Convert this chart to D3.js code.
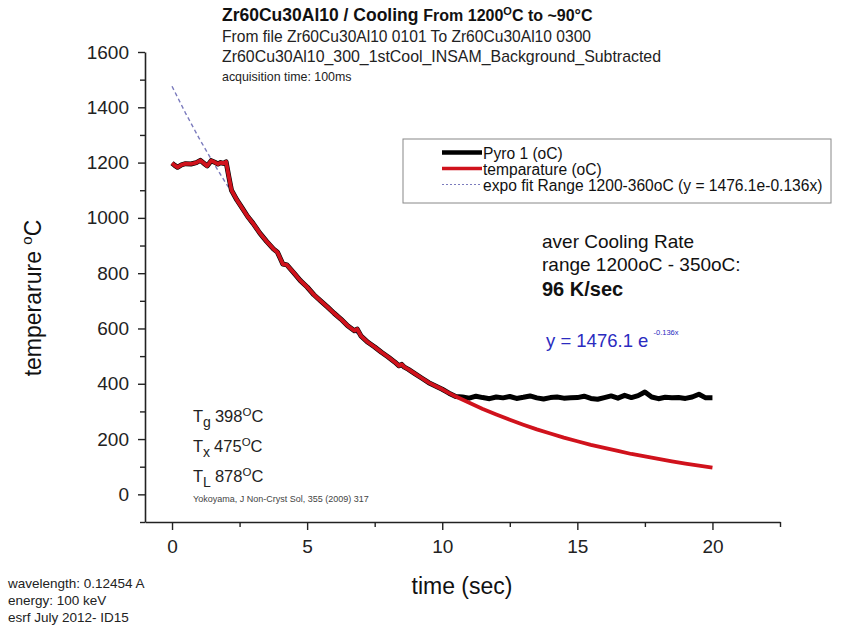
<!DOCTYPE html>
<html>
<head>
<meta charset="utf-8">
<script src="https://cdn.jsdelivr.net/npm/d3@7"></script>
<style>
  body { margin: 0; background: #fff; }
  svg { font-family: "Liberation Sans", Arial, sans-serif; }
</style>
</head>
<body>
<svg id="chart" width="848" height="627"></svg>
<script>
// cooling part, both pyro and temperature overlap here
const coolTime = [0, 0.1, 0.2, 0.35, 0.5, 0.7, 0.9, 1.05, 1.2, 1.3, 1.45, 1.6, 1.7, 1.8, 1.9, 2.0, 2.1, 2.2,
  2.4, 2.6, 2.8, 3.0, 3.25, 3.5, 3.75, 3.9, 4.0, 4.1, 4.25, 4.5, 4.75, 5.0, 5.25, 5.5, 5.75, 6.0, 6.25,
  6.5, 6.75, 6.85, 7.0, 7.25, 7.5, 7.75, 8.0, 8.25, 8.4, 8.5, 8.6, 8.75, 9.0, 9.25, 9.5, 9.75, 10.0, 10.25, 10.5];
const coolTemp = [1198, 1190, 1183, 1192, 1196, 1195, 1200, 1208, 1196, 1188, 1207, 1200, 1195, 1200, 1197, 1203, 1150, 1100,
  1065, 1035, 1005, 980, 945, 915, 888, 876, 855, 833, 830, 802, 773, 750, 722, 700, 678, 655, 634,
  610, 592, 598, 572, 550, 533, 514, 497, 478, 465, 470, 460, 452, 436, 420, 404, 392, 380, 366, 354];

// Pyro 1 after 10.5 s (flat ~350)
const pyroTailTime = [10.75, 11, 11.25, 11.5, 11.75, 12, 12.25, 12.5, 12.75, 13, 13.25, 13.5, 13.75, 14, 14.25,
  14.5, 14.75, 15, 15.25, 15.5, 15.75, 16, 16.25, 16.5, 16.75, 17, 17.25, 17.5, 17.75, 18, 18.25, 18.5,
  18.75, 19, 19.25, 19.5, 19.75, 20];
const pyroTailTemp = [352, 348, 355, 350, 346, 352, 349, 354, 347, 351, 356, 349, 345, 350, 352,
  348, 349, 350, 355, 347, 344, 350, 356, 348, 358, 350, 357, 370, 352, 346, 351, 349,
  350, 347, 352, 362, 349, 349];

// temperature after 10.5 s (smooth)
const tempTailTime = [11, 11.5, 12, 12.5, 13, 13.5, 14, 14.5, 15, 15.5, 16, 16.5, 17, 17.5, 18, 18.5, 19, 19.5, 20];
const tempTailTemp = [331, 309, 289, 270, 252, 235, 220, 205, 192, 179, 168, 157, 146, 137, 128, 119, 111, 104, 97];

// expo fit values y = 1476.1 e^-0.136x
const fitTime = [0, 0.5, 1, 1.5, 2, 2.5, 3, 3.5, 4, 4.5, 5, 5.5, 6, 6.5, 7, 7.5, 8, 8.5, 9, 9.5, 10, 10.5];
const fitTemp = [1476.1, 1379.1, 1288.4, 1203.7, 1124.6, 1050.6, 981.6, 917.0, 856.8, 800.4, 747.8, 698.7,
  652.7, 609.8, 569.7, 532.3, 497.3, 464.6, 434.0, 405.5, 378.9, 354.0];

const xMajor = [0, 5, 10, 15, 20];
const xMinor = [2.5, 7.5, 12.5, 17.5, 22.5];
const yMajor = [0, 200, 400, 600, 800, 1000, 1200, 1400, 1600];
const yMinor = [-100, 100, 300, 500, 700, 900, 1100, 1300, 1500];

const legendItems = ["Pyro 1 (oC)", "temparature (oC)", "expo fit Range 1200-360oC (y = 1476.1e-0.136x)"];

const svg = d3.select("#chart");

const x = d3.scaleLinear().domain([-1, 22.5]).range([145, 780]);
const y = d3.scaleLinear().domain([-100, 1600]).range([522, 52]);

const zip = (ts, vs) => ts.map((t, i) => ({t: t, v: vs[i]}));
const pyroData = zip(coolTime, coolTemp).concat(zip(pyroTailTime, pyroTailTemp));
const tempData = zip(coolTime, coolTemp).concat(zip(tempTailTime, tempTailTemp));
const fitData = zip(fitTime, fitTemp);

const line = d3.line().x(d => x(d.t)).y(d => y(d.v));

// axes
svg.append("g").attr("transform", "translate(0,522)")
  .call(d3.axisBottom(x).tickValues(xMajor).tickSize(8).tickPadding(10).tickSizeOuter(0));
svg.append("g").attr("transform", "translate(0,522)")
  .call(d3.axisBottom(x).tickValues(xMinor).tickSize(5).tickFormat("").tickSizeOuter(0))
  .select(".domain").remove();
svg.append("g").attr("transform", "translate(145,0)")
  .call(d3.axisLeft(y).tickValues(yMajor).tickSize(7).tickPadding(9).tickSizeOuter(0).tickFormat(d3.format("d")));
svg.append("g").attr("transform", "translate(145,0)")
  .call(d3.axisLeft(y).tickValues(yMinor).tickSize(5).tickFormat("").tickSizeOuter(0))
  .select(".domain").remove();

svg.selectAll(".domain").attr("stroke", "#222").attr("stroke-width", 1.6);
svg.selectAll(".tick line").attr("stroke", "#222").attr("stroke-width", 1.4);
svg.selectAll(".tick text").attr("font-size", 19).attr("fill", "#222")
  .attr("font-family", "Liberation Sans, Arial, sans-serif");

// lines
svg.append("path").datum(fitData)
  .attr("d", line).attr("fill", "none")
  .attr("stroke", "#7b7bbd").attr("stroke-width", 1.4).attr("stroke-dasharray", "4,3");

svg.append("path").datum(pyroData)
  .attr("d", line).attr("fill", "none")
  .attr("stroke", "#000").attr("stroke-width", 5).attr("stroke-linejoin", "round");

svg.append("path").datum(tempData)
  .attr("d", line).attr("fill", "none")
  .attr("stroke", "#d0121c").attr("stroke-width", 3.8).attr("stroke-linejoin", "round");

// axis titles
const yt = svg.append("text").attr("transform", "translate(41,298) rotate(-90)")
  .attr("text-anchor", "middle").attr("font-size", 23).attr("fill", "#111");
yt.append("tspan").text("temperarure ");
yt.append("tspan").attr("font-size", 15).attr("dy", -9).text("o");
yt.append("tspan").attr("dy", 9).text("C");

svg.append("text").attr("x", 462).attr("y", 594).attr("text-anchor", "middle")
  .attr("font-size", 23).attr("fill", "#111").text("time (sec)");

// title block
const t1 = svg.append("text").attr("x", 222).attr("y", 21).attr("font-weight", "bold").attr("fill", "#111");
t1.append("tspan").attr("font-size", 17.5).text("Zr60Cu30Al10 / Cooling ");
t1.append("tspan").attr("font-size", 16).text("From 1200");
t1.append("tspan").attr("font-size", 11).attr("dy", -6).text("O");
t1.append("tspan").attr("font-size", 16).attr("dy", 6).text("C to ~90°C");

svg.append("text").attr("x", 222).attr("y", 42).attr("font-size", 15.6).attr("fill", "#222")
  .text("From file Zr60Cu30Al10 0101 To Zr60Cu30Al10 0300");
svg.append("text").attr("x", 222).attr("y", 62).attr("font-size", 15.9).attr("fill", "#222")
  .text("Zr60Cu30Al10_300_1stCool_INSAM_Background_Subtracted");
svg.append("text").attr("x", 222).attr("y", 81).attr("font-size", 12.4).attr("fill", "#222")
  .text("acquisition time: 100ms");

// legend
const lg = svg.append("g");
lg.append("rect").attr("x", 403).attr("y", 139).attr("width", 428).attr("height", 64)
  .attr("fill", "#fff").attr("stroke", "#888").attr("stroke-width", 1);
const legendStyle = [
  {stroke: "#000", width: 4.5, dash: null},
  {stroke: "#d0121c", width: 3.5, dash: null},
  {stroke: "#7b7bbd", width: 1.2, dash: "2,2"}
];
legendItems.forEach((name, i) => {
  const yy = 152.5 + i * 16;
  lg.append("line").attr("x1", 442).attr("x2", 482).attr("y1", yy).attr("y2", yy)
    .attr("stroke", legendStyle[i].stroke).attr("stroke-width", legendStyle[i].width)
    .attr("stroke-dasharray", legendStyle[i].dash);
  lg.append("text").attr("x", 483).attr("y", yy + 6).attr("font-size", 15.6).attr("fill", "#111").text(name);
});

// cooling rate annotation
svg.append("text").attr("x", 542).attr("y", 248).attr("font-size", 19).attr("fill", "#111").text("aver Cooling Rate");
svg.append("text").attr("x", 542).attr("y", 271).attr("font-size", 19).attr("fill", "#111").text("range 1200oC - 350oC:");
svg.append("text").attr("x", 542).attr("y", 296).attr("font-size", 20).attr("font-weight", "bold").attr("fill", "#111").text("96 K/sec");

const fe = svg.append("text").attr("x", 546).attr("y", 347).attr("font-size", 18.5).attr("fill", "#2b2bc0");
fe.append("tspan").text("y = 1476.1 e ");
fe.append("tspan").attr("font-size", 7.5).attr("dy", -12).text("-0.136x");

// Tg, Tx, TL
const temps = [["g", "398"], ["x", "475"], ["L", "878"]];
temps.forEach((d, i) => {
  const tt = svg.append("text").attr("x", 193).attr("y", 422 + i * 30).attr("font-size", 16.5).attr("fill", "#222");
  tt.append("tspan").text("T");
  tt.append("tspan").attr("font-size", 14).attr("dy", 5).text(d[0]);
  tt.append("tspan").attr("dy", -5).attr("dx", 4).text(d[1]);
  tt.append("tspan").attr("font-size", 11.5).attr("dy", -6).text("O");
  tt.append("tspan").attr("dy", 6).text("C");
});
svg.append("text").attr("x", 193).attr("y", 502).attr("font-size", 9).attr("fill", "#444")
  .text("Yokoyama, J Non-Cryst Sol, 355 (2009) 317");

// bottom left info
["wavelength: 0.12454 A", "energy: 100 keV", "esrf July 2012- ID15"].forEach((s, i) => {
  svg.append("text").attr("x", 8).attr("y", 588 + i * 17).attr("font-size", 13.5).attr("fill", "#222").text(s);
});
</script>
</body>
</html>
